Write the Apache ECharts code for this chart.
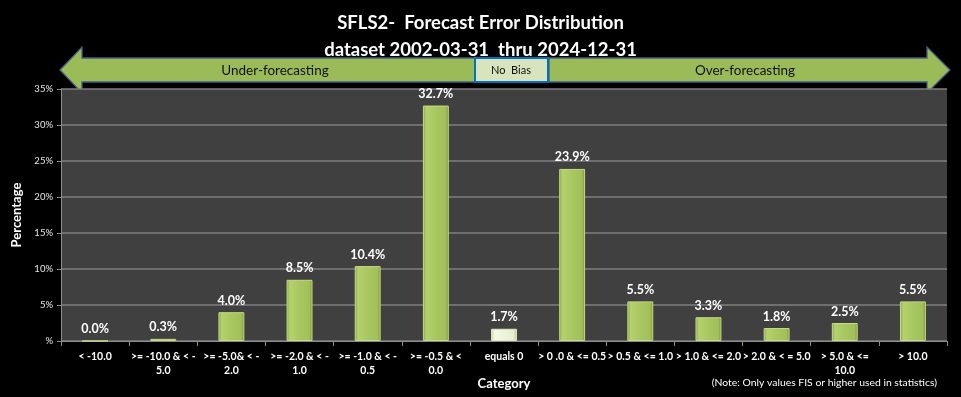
<!DOCTYPE html>
<html>
<head>
<meta charset="utf-8">
<script src="https://cdn.jsdelivr.net/npm/echarts@6/dist/echarts.min.js"></script>
<style>
html,body{margin:0;padding:0;background:#000;}
#chart{width:961px;height:397px;}
</style>
</head>
<body>
<div id="chart"></div>
<script>
const titleLines = ['SFLS2-  Forecast Error Distribution', 'dataset 2002-03-31  thru 2024-12-31'];
const categories = ['< -10.0', '>= -10.0 & < -\n5.0', '>= -5.0& < -\n2.0', '>= -2.0 & < -\n1.0', '>= -1.0 & < -\n0.5', '>= -0.5 & <\n0.0', 'equals 0', '> 0 .0 & <= 0.5', '> 0.5 & <= 1.0', '> 1.0 & <= 2.0', '> 2.0 & < = 5.0', '> 5.0 & <=\n10.0', '> 10.0'];
const percentages = [0.0, 0.3, 4.0, 8.5, 10.4, 32.7, 1.7, 23.9, 5.5, 3.3, 1.8, 2.5, 5.5];
const yTicks = [0, 5, 10, 15, 20, 25, 30, 35];
const zeroIndex = 6;

const FONT = 'Lato, "Open Sans", "Liberation Sans", sans-serif';

const greenFill = {
  type: 'linear', x: 0, y: 0, x2: 1, y2: 0,
  colorStops: [
    {offset: 0, color: '#7f9e3f'},
    {offset: 0.12, color: '#b4d16d'},
    {offset: 0.5, color: '#a9c760'},
    {offset: 0.88, color: '#a2c05a'},
    {offset: 1, color: '#768f38'}
  ]
};
const paleFill = {
  type: 'linear', x: 0, y: 0, x2: 1, y2: 0,
  colorStops: [
    {offset: 0, color: '#c9d6a8'},
    {offset: 0.15, color: '#f4f8e6'},
    {offset: 0.85, color: '#e8efd2'},
    {offset: 1, color: '#b9c795'}
  ]
};

const barData = percentages.map((v, i) => ({
  value: v,
  itemStyle: {
    color: i === zeroIndex ? paleFill : greenFill,
    borderColor: i === zeroIndex ? '#dfe8c4' : '#c4dc86',
    borderWidth: 1
  }
}));

const chart = echarts.init(document.getElementById('chart'), null, {renderer: 'canvas'});

const arrowStroke = '#3e5f86';
const option = {
  backgroundColor: '#000000',
  animation: false,
  title: {
    text: titleLines.join('\n'),
    left: 'center',
    top: 5,
    textStyle: {color: '#ffffff', fontFamily: FONT, fontWeight: 'bold', fontSize: 18.5, lineHeight: 27}
  },
  grid: {left: 61, right: 14, top: 89, bottom: 56, containLabel: false, outerBoundsMode: 'none'},
  xAxis: {
    type: 'category',
    data: categories,
    name: 'Category',
    nameLocation: 'middle',
    nameGap: 36,
    nameMoveOverlap: false,
    nameTextStyle: {color: '#ffffff', fontFamily: FONT, fontWeight: 'bold', fontSize: 13},
    axisLine: {lineStyle: {color: '#8c8c8c', width: 1}},
    axisTick: {show: true, inside: false, length: 5, lineStyle: {color: '#8c8c8c'}, alignWithLabel: false},
    axisLabel: {color: '#ffffff', fontFamily: FONT, fontWeight: 'bold', fontSize: 10.5, lineHeight: 14, margin: 9, interval: 0},
    splitLine: {show: false}
  },
  yAxis: {
    type: 'value',
    min: 0, max: 35, interval: 5,
    name: 'Percentage',
    nameLocation: 'middle',
    nameGap: 38,
    nameRotate: 90,
    nameMoveOverlap: false,
    nameTextStyle: {color: '#ffffff', fontFamily: FONT, fontWeight: 'bold', fontSize: 13},
    axisLine: {show: true, lineStyle: {color: '#8c8c8c'}},
    axisTick: {show: true, length: 4, lineStyle: {color: '#8c8c8c'}},
    axisLabel: {
      color: '#e6e6e6', fontFamily: FONT, fontSize: 9.5, margin: 8,
      formatter: v => (yTicks.indexOf(v) >= 0 ? (v === 0 ? '%' : v + '%') : '')
    },
    splitLine: {lineStyle: {color: '#7f7f7f', width: 1.5}},
    splitArea: {show: true, areaStyle: {color: ['#404040', '#404040']}}
  },
  series: [{
    type: 'bar',
    data: barData,
    barWidth: '38%',
    label: {
      show: true,
      position: 'top',
      distance: 5,
      color: '#ffffff',
      fontFamily: FONT,
      fontWeight: 'bold',
      fontSize: 12.5,
      formatter: p => p.value.toFixed(1) + '%'
    }
  }],
  graphic: [
    {
      type: 'polygon',
      shape: {points: [[60, 70], [82, 47], [82, 58], [475, 58], [475, 82], [82, 82], [82, 93]]},
      style: {fill: '#9bbb59', stroke: arrowStroke, lineWidth: 1.3}
    },
    {
      type: 'polygon',
      shape: {points: [[950, 70], [927, 47], [927, 58], [549, 58], [549, 82], [927, 82], [927, 93]]},
      style: {fill: '#9bbb59', stroke: arrowStroke, lineWidth: 1.3}
    },
    {
      type: 'rect',
      shape: {x: 475, y: 58, width: 73, height: 24},
      style: {fill: '#d7e4bd', stroke: '#0070c0', lineWidth: 2}
    },
    {
      type: 'text',
      style: {text: 'Under-forecasting', x: 275, y: 71, fill: '#111111', font: '13.5px ' + FONT, textAlign: 'center', textVerticalAlign: 'middle'}
    },
    {
      type: 'text',
      style: {text: 'No  Bias', x: 511, y: 70, fill: '#111111', font: '11px ' + FONT, textAlign: 'center', textVerticalAlign: 'middle'}
    },
    {
      type: 'text',
      style: {text: 'Over-forecasting', x: 745, y: 71, fill: '#111111', font: '13.5px ' + FONT, textAlign: 'center', textVerticalAlign: 'middle'}
    },
    {
      type: 'text',
      style: {text: '(Note: Only values FIS or higher used in statistics)', x: 937, y: 383, fill: '#ffffff', font: '10.4px ' + FONT, textAlign: 'right', textVerticalAlign: 'middle'}
    }
  ]
};
chart.setOption(option);
</script>
</body>
</html>
